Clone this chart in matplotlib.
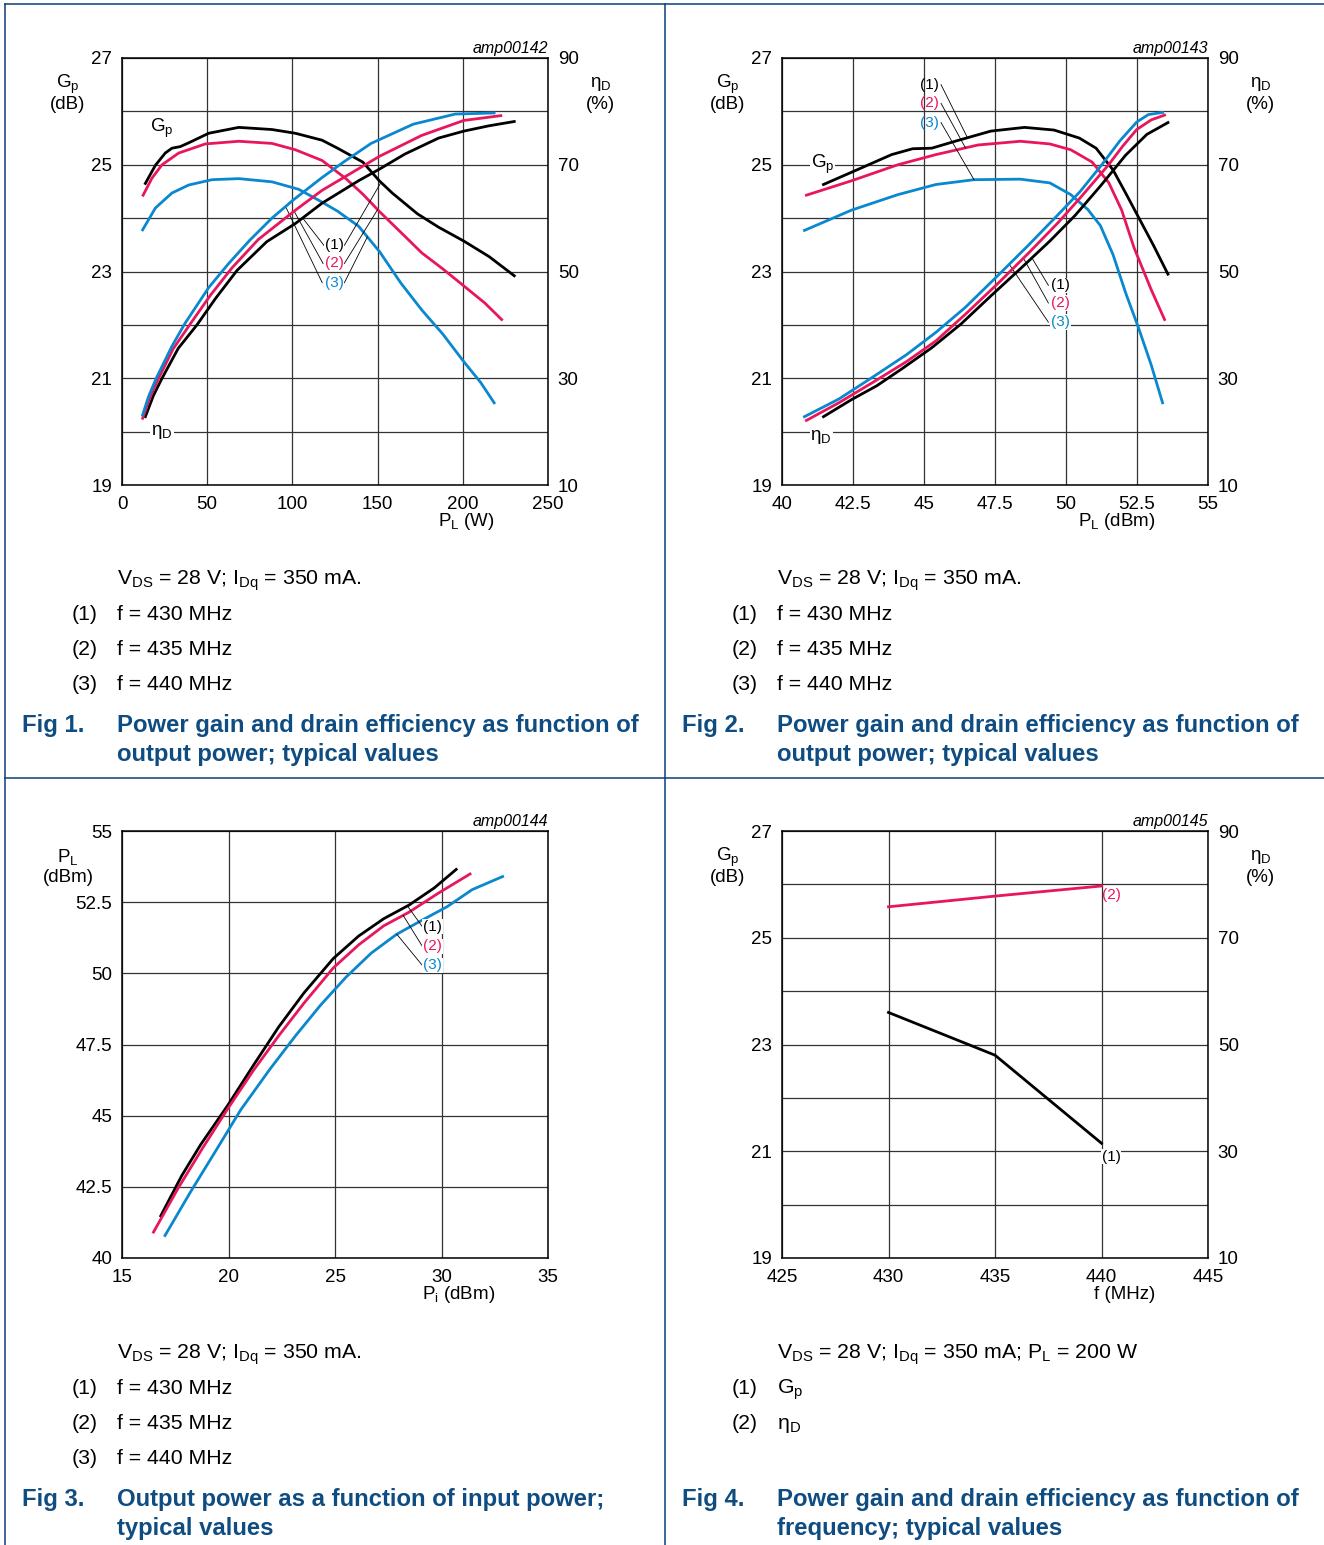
import numpy as np
import matplotlib
matplotlib.use('Agg')
import matplotlib.pyplot as plt
from matplotlib.lines import Line2D

plt.rcParams['font.family'] = ['Liberation Sans', 'DejaVu Sans']
plt.rcParams['mathtext.fontset'] = 'custom'
plt.rcParams['mathtext.rm'] = 'Liberation Sans'
plt.rcParams['mathtext.it'] = 'Liberation Sans:italic'
plt.rcParams['mathtext.bf'] = 'Liberation Sans:bold'

BLACK = '#000000'
PINK = '#e8175d'
BLUE = '#0a88cf'
NAVY = '#0b3d78'
TITLE = '#0f4c81'
GRID = '#333333'

# ---- Fig 1 : Gp / etaD vs PL (W) ----
f1_gp1_x = [13.7, 19.6, 25.4, 29.3, 34.2, 39.1, 50.9, 68.5, 88, 101.7, 117.4, 126.5, 141.3, 151, 158.6, 173.4, 185.8, 200.6, 215.4, 230.2]
f1_gp1_y = [24.65, 24.99, 25.22, 25.31, 25.34, 25.41, 25.59, 25.70, 25.66, 25.59, 25.46, 25.31, 25.05, 24.70, 24.47, 24.08, 23.83, 23.57, 23.28, 22.92]
f1_gp2_x = [12.4, 17.6, 23.5, 33.3, 48.9, 68.5, 88, 101.8, 117.4, 131.4, 141.3, 151.2, 166, 175.9, 188.2, 200.6, 212.9, 222.8]
f1_gp2_y = [24.43, 24.75, 25.0, 25.22, 25.39, 25.44, 25.40, 25.28, 25.08, 24.74, 24.45, 24.12, 23.66, 23.35, 23.05, 22.73, 22.41, 22.10]
f1_gp3_x = [12.1, 19.6, 29.3, 39.1, 52.8, 68.5, 88, 103.7, 117.4, 126.5, 138.8, 151.2, 163.5, 175.9, 188.2, 200.6, 210.5, 218.4]
f1_gp3_y = [23.78, 24.19, 24.47, 24.62, 24.72, 24.74, 24.68, 24.54, 24.30, 24.13, 23.85, 23.37, 22.79, 22.28, 21.83, 21.31, 20.92, 20.54]
f1_eta1_x = [13.7, 18.5, 23.5, 33, 44, 55, 67.5, 85, 101.8, 117.4, 138.8, 151.2, 166, 185.8, 200.6, 215.4, 230.2]
f1_eta1_y = [22.8, 26.8, 30.0, 35.6, 40.0, 45.0, 50.2, 55.6, 59.0, 62.8, 67.0, 69.2, 72.0, 75.0, 76.3, 77.3, 78.1]
f1_eta2_x = [12.1, 16.5, 21.5, 30, 40.1, 52, 64.6, 80, 101.8, 117.4, 151.2, 175.9, 200.6, 222.3]
f1_eta2_y = [22.5, 26.5, 30.0, 35.5, 40.2, 45.6, 50.7, 56.0, 61.5, 65.2, 71.6, 75.5, 78.3, 79.2]
f1_eta3_x = [12.1, 15.5, 20.1, 29.3, 36.8, 50.9, 62.6, 75.1, 88, 100.5, 117.4, 130, 146.2, 170.9, 195.6, 218.4]
f1_eta3_y = [23.1, 26.5, 30.0, 36.0, 40.2, 47.0, 51.5, 55.9, 60.0, 63.4, 67.6, 70.5, 74.0, 77.6, 79.5, 79.7]

# ---- Fig 2 : Gp / etaD vs PL (dBm) ----
f2_gp1_x = [41.46, 42.45, 43.86, 44.6, 45.27, 46.16, 47.35, 48.54, 49.58, 50.47, 51.06, 51.66, 52.1, 52.55, 53.07, 53.59]
f2_gp1_y = [24.63, 24.86, 25.19, 25.30, 25.31, 25.45, 25.63, 25.70, 25.65, 25.50, 25.31, 24.90, 24.47, 24.02, 23.50, 22.95]
f2_gp2_x = [40.86, 42.45, 44.08, 45.42, 46.9, 48.39, 49.43, 50.17, 50.92, 51.51, 51.96, 52.4, 53.0, 53.47]
f2_gp2_y = [24.43, 24.70, 25.0, 25.19, 25.37, 25.44, 25.39, 25.28, 25.05, 24.66, 24.15, 23.44, 22.66, 22.10]
f2_gp3_x = [40.79, 42.45, 44.08, 45.42, 46.76, 48.39, 49.43, 50.17, 50.77, 51.21, 51.66, 52.1, 52.55, 53.0, 53.4]
f2_gp3_y = [23.77, 24.15, 24.44, 24.63, 24.72, 24.73, 24.66, 24.44, 24.16, 23.86, 23.31, 22.60, 21.95, 21.25, 20.54]
f2_eta1_x = [41.46, 42.45, 43.34, 44.23, 45.27, 46.31, 47.35, 48.39, 49.43, 50.32, 51.21, 52.1, 52.85, 53.59]
f2_eta1_y = [22.8, 26.0, 28.6, 31.8, 35.7, 40.2, 45.4, 50.5, 55.7, 60.5, 66.0, 71.8, 75.7, 77.9]
f2_eta2_x = [40.86, 42.0, 43.19, 44.38, 45.42, 46.46, 47.65, 48.69, 49.73, 50.5, 51.5, 52.0, 52.49, 53.0, 53.47]
f2_eta2_y = [22.1, 25.4, 29.2, 33.1, 37.0, 42.0, 48.0, 53.5, 59.2, 63.8, 70.0, 73.5, 76.6, 78.4, 79.3]
f2_eta3_x = [40.79, 42.0, 43.19, 44.38, 45.42, 46.46, 47.65, 48.69, 49.73, 50.5, 51.26, 51.9, 52.49, 52.9, 53.4]
f2_eta3_y = [22.8, 26.1, 30.2, 34.4, 38.6, 43.3, 49.5, 55.0, 60.7, 65.0, 70.0, 74.5, 78.0, 79.4, 79.8]

# ---- Fig 3 : PL vs Pi ----
f3_pl1_x = [16.82, 17.81, 18.70, 19.98, 21.17, 22.35, 23.54, 24.92, 26.11, 27.29, 28.48, 29.66, 30.69]
f3_pl1_y = [41.48, 42.90, 43.99, 45.38, 46.77, 48.11, 49.31, 50.52, 51.31, 51.92, 52.40, 53.0, 53.65]
f3_pl2_x = [16.48, 17.61, 18.79, 19.98, 21.17, 22.35, 23.54, 24.92, 26.11, 27.29, 28.48, 29.86, 31.34]
f3_pl2_y = [40.91, 42.42, 43.87, 45.26, 46.59, 47.80, 48.95, 50.19, 51.0, 51.67, 52.15, 52.82, 53.49]
f3_pl3_x = [17.02, 18.2, 19.39, 20.57, 21.96, 23.14, 24.33, 25.51, 26.70, 27.89, 29.07, 30.26, 31.44, 32.87]
f3_pl3_y = [40.79, 42.30, 43.75, 45.20, 46.65, 47.80, 48.89, 49.86, 50.71, 51.37, 51.86, 52.34, 52.94, 53.40]

# ---- Fig 4 : Gp / etaD vs f ----
f4_freq = [430, 435, 440]
f4_gp = [23.6, 22.8, 21.15]
f4_eta = [75.8, 77.8, 79.7]

W, H = 1324, 1545
fig = plt.figure(figsize=(W / 100, H / 100), dpi=100)


def fx(x):
    return x / W


def fy(y):
    return 1 - y / H


def make_axes(left_px, top_px):
    return fig.add_axes([fx(left_px), fy(top_px + 427), 426 / W, 427 / H])


def style(ax, xlim, xticks, xlabels, ylim, yticks, ylabels):
    ax.set_xlim(*xlim)
    ax.set_ylim(*ylim)
    ax.set_xticks(xticks)
    ax.set_xticklabels(xlabels)
    ax.set_yticks(yticks)
    ax.set_yticklabels(ylabels)
    ax.tick_params(length=0, labelsize=13.5, pad=8)
    ax.tick_params(axis='y', pad=7)
    ax.grid(True, color=GRID, lw=0.9)
    ax.set_axisbelow(True)
    for s in ax.spines.values():
        s.set_linewidth(1.1)


def twin_eta(ax):
    tw = ax.twinx()
    tw.set_ylim(10, 90)
    tw.set_yticks([10, 30, 50, 70, 90])
    tw.tick_params(length=0, labelsize=13.5, pad=7)
    for s in tw.spines.values():
        s.set_visible(False)
    return tw


def side_labels(ax, top_txt, bot_txt, right=False):
    xs = 1.124 if right else -0.127
    ax.text(xs, 0.939, top_txt, transform=ax.transAxes, ha='center', va='center', fontsize=13.5)
    ax.text(xs, 0.891, bot_txt, transform=ax.transAxes, ha='center', va='center', fontsize=13.5)


def tag(ax, name):
    ax.text(1.0, 1.022, name, transform=ax.transAxes, ha='right', va='center',
            fontsize=11.5, style='italic')


def xlabel(ax, txt):
    ax.text(0.876, -0.085, txt, transform=ax.transAxes, ha='right', va='center', fontsize=13.5)


def num(lab):
    return ['%g' % v for v in lab]


def eta_to_gp(e):
    return 19 + (np.asarray(e) - 10) / 10.0


GP_TICKS = np.arange(19, 28, 1)
GP_LABELS = ['19', '', '21', '', '23', '', '25', '', '27']
WHITE_BOX = dict(facecolor='white', edgecolor='none', pad=0.5)

# ---------------- Fig 1 ----------------
ax1 = make_axes(122, 58)
style(ax1, (0, 250), np.arange(0, 251, 50), num(np.arange(0, 251, 50)), (19, 27), GP_TICKS, GP_LABELS)
tw1 = twin_eta(ax1)
for xs, ys, c in [(f1_gp1_x, f1_gp1_y, BLACK), (f1_gp2_x, f1_gp2_y, PINK), (f1_gp3_x, f1_gp3_y, BLUE)]:
    ax1.plot(xs, ys, color=c, lw=2.0, zorder=3)
for xs, ys, c in [(f1_eta1_x, f1_eta1_y, BLACK), (f1_eta2_x, f1_eta2_y, PINK), (f1_eta3_x, f1_eta3_y, BLUE)]:
    tw1.plot(xs, ys, color=c, lw=2.0, zorder=3)
ax1.text(23.5, 25.69, 'G$_\\mathrm{p}$', fontsize=13.5, ha='center', va='center')
ax1.text(23.5, 20.0, 'η$_\\mathrm{D}$', fontsize=13.5, ha='center', va='center', zorder=4,
         bbox=dict(facecolor='white', edgecolor='none', pad=1))
lab_y1 = [23.49, 23.15, 22.79]
eta_sets1 = [(f1_eta1_x, f1_eta1_y, 106), (f1_eta2_x, f1_eta2_y, 101), (f1_eta3_x, f1_eta3_y, 96)]
gp_sets1 = [(f1_gp1_x, f1_gp1_y, 152), (f1_gp2_x, f1_gp2_y, 150), (f1_gp3_x, f1_gp3_y, 144)]
for i, c in enumerate([BLACK, PINK, BLUE]):
    ex, ey, w = eta_sets1[i]
    gx, gy, w2 = gp_sets1[i]
    ax1.text(124.5, lab_y1[i], '(%d)' % (i + 1), color=c, fontsize=11, ha='center', va='center',
             zorder=6, bbox=WHITE_BOX)
    ax1.plot([118.5 - 0.5 * i, w], [lab_y1[i], eta_to_gp(np.interp(w, ex, ey))], color='black', lw=0.6, zorder=5)
    ax1.plot([130.5, w2], [lab_y1[i], np.interp(w2, gx, gy)], color='black', lw=0.6, zorder=5)
side_labels(ax1, 'G$_\\mathrm{p}$', '(dB)')
side_labels(ax1, 'η$_\\mathrm{D}$', '(%)', right=True)
tag(ax1, 'amp00142')
xlabel(ax1, 'P$_\\mathrm{L}$ (W)')

# ---------------- Fig 2 ----------------
ax2 = make_axes(782, 58)
x2t = np.arange(40, 55.1, 2.5)
style(ax2, (40, 55), x2t, num(x2t), (19, 27), GP_TICKS, GP_LABELS)
tw2 = twin_eta(ax2)
for xs, ys, c in [(f2_gp1_x, f2_gp1_y, BLACK), (f2_gp2_x, f2_gp2_y, PINK), (f2_gp3_x, f2_gp3_y, BLUE)]:
    ax2.plot(xs, ys, color=c, lw=2.0, zorder=3)
for xs, ys, c in [(f2_eta1_x, f2_eta1_y, BLACK), (f2_eta2_x, f2_eta2_y, PINK), (f2_eta3_x, f2_eta3_y, BLUE)]:
    tw2.plot(xs, ys, color=c, lw=2.0, zorder=3)
ax2.text(41.42, 25.0, 'G$_\\mathrm{p}$', fontsize=13.5, ha='center', va='center', zorder=4, bbox=WHITE_BOX)
ax2.text(41.38, 19.89, 'η$_\\mathrm{D}$', fontsize=13.5, ha='center', va='center', zorder=4, bbox=WHITE_BOX)
top_y2 = [26.5, 26.15, 25.79]
gp_sets2 = [(f2_gp1_x, f2_gp1_y, 46.53), (f2_gp2_x, f2_gp2_y, 46.46), (f2_gp3_x, f2_gp3_y, 46.76)]
low_y2 = [22.74, 22.41, 22.05]
eta_sets2 = [(f2_eta1_x, f2_eta1_y, 48.8), (f2_eta2_x, f2_eta2_y, 48.5), (f2_eta3_x, f2_eta3_y, 48.0)]
for i, c in enumerate([BLACK, PINK, BLUE]):
    gx, gy, w = gp_sets2[i]
    ax2.text(45.2, top_y2[i], '(%d)' % (i + 1), color=c, fontsize=11, ha='center', va='center', zorder=6)
    ax2.plot([45.6, w], [top_y2[i], np.interp(w, gx, gy)], color='black', lw=0.6, zorder=5)
    ex, ey, w2 = eta_sets2[i]
    ax2.text(49.8, low_y2[i], '(%d)' % (i + 1), color=c, fontsize=11, ha='center', va='center',
             zorder=6, bbox=WHITE_BOX)
    ax2.plot([49.38, w2], [low_y2[i], eta_to_gp(np.interp(w2, ex, ey))], color='black', lw=0.6, zorder=5)
side_labels(ax2, 'G$_\\mathrm{p}$', '(dB)')
side_labels(ax2, 'η$_\\mathrm{D}$', '(%)', right=True)
tag(ax2, 'amp00143')
xlabel(ax2, 'P$_\\mathrm{L}$ (dBm)')

# ---------------- Fig 3 ----------------
ax3 = make_axes(122, 831)
y3t = np.arange(40, 55.1, 2.5)
style(ax3, (15, 35), np.arange(15, 36, 5), num(np.arange(15, 36, 5)), (40, 55), y3t, num(y3t))
for xs, ys, c in [(f3_pl1_x, f3_pl1_y, BLACK), (f3_pl2_x, f3_pl2_y, PINK), (f3_pl3_x, f3_pl3_y, BLUE)]:
    ax3.plot(xs, ys, color=c, lw=2.0, zorder=3)
lab_y3 = [51.64, 50.95, 50.28]
pl_sets3 = [(f3_pl1_x, f3_pl1_y, 28.4), (f3_pl2_x, f3_pl2_y, 28.2), (f3_pl3_x, f3_pl3_y, 27.9)]
for i, c in enumerate([BLACK, PINK, BLUE]):
    px, py, w = pl_sets3[i]
    ax3.text(29.57, lab_y3[i], '(%d)' % (i + 1), color=c, fontsize=11, ha='center', va='center',
             zorder=6, bbox=WHITE_BOX)
    ax3.plot([29.1, w], [lab_y3[i], np.interp(w, px, py)], color='black', lw=0.6, zorder=5)
side_labels(ax3, 'P$_\\mathrm{L}$', '(dBm)')
tag(ax3, 'amp00144')
xlabel(ax3, 'P$_\\mathrm{i}$ (dBm)')

# ---------------- Fig 4 ----------------
ax4 = make_axes(782, 831)
style(ax4, (425, 445), np.arange(425, 446, 5), num(np.arange(425, 446, 5)), (19, 27), GP_TICKS, GP_LABELS)
tw4 = twin_eta(ax4)
ax4.plot(f4_freq, f4_gp, color=BLACK, lw=2.0, zorder=3)
tw4.plot(f4_freq, f4_eta, color=PINK, lw=2.0, zorder=3)
tw4.text(440.45, 78.1, '(2)', color=PINK, fontsize=11, ha='center', va='center')
ax4.text(440.45, 20.9, '(1)', color=BLACK, fontsize=11, ha='center', va='center', zorder=6, bbox=WHITE_BOX)
side_labels(ax4, 'G$_\\mathrm{p}$', '(dB)')
side_labels(ax4, 'η$_\\mathrm{D}$', '(%)', right=True)
tag(ax4, 'amp00145')
xlabel(ax4, 'f (MHz)')

# ---------------- captions ----------------
cond = 'V$_\\mathrm{DS}$ = 28 V; I$_\\mathrm{Dq}$ = 350 mA.'
freq_items = [('(1)', 'f = 430 MHz'), ('(2)', 'f = 435 MHz'), ('(3)', 'f = 440 MHz')]
f4_items = [('(1)', 'G$_\\mathrm{p}$'), ('(2)', 'η$_\\mathrm{D}$')]
captions = [
    (0, 0, cond, freq_items, 'Fig 1.', ['Power gain and drain efficiency as function of', 'output power; typical values']),
    (660, 0, cond, freq_items, 'Fig 2.', ['Power gain and drain efficiency as function of', 'output power; typical values']),
    (0, 774, cond, freq_items, 'Fig 3.', ['Output power as a function of input power;', 'typical values']),
    (660, 774, 'V$_\\mathrm{DS}$ = 28 V; I$_\\mathrm{Dq}$ = 350 mA; P$_\\mathrm{L}$ = 200 W', f4_items, 'Fig 4.',
     ['Power gain and drain efficiency as function of', 'frequency; typical values']),
]
for dx, dy, c_txt, items, fig_no, title in captions:
    fig.text(fx(117 + dx), fy(585 + dy), c_txt, fontsize=15.3, va='baseline')
    for k, (a, b) in enumerate(items):
        yb = 620 + dy + 35 * k
        fig.text(fx(72 + dx), fy(yb), a, fontsize=15.3, va='baseline')
        fig.text(fx(117 + dx), fy(yb), b, fontsize=15.3, va='baseline')
    fig.text(fx(22 + dx), fy(732 + dy), fig_no, fontsize=17.2, fontweight='bold', color=TITLE, va='baseline')
    for k, line in enumerate(title):
        fig.text(fx(117 + dx), fy(732 + dy + 29 * k), line, fontsize=17.2, fontweight='bold',
                 color=TITLE, va='baseline')

# ---------------- table borders ----------------
for (x0, y0, x1, y1) in [(5, 4, 1324, 4), (5, 4, 5, 1545), (665, 4, 665, 1545), (5, 778, 1324, 778)]:
    fig.add_artist(Line2D([fx(x0), fx(x1)], [fy(y0), fy(y1)], color=NAVY, lw=1.1))

fig.savefig('out.png', dpi=100)
